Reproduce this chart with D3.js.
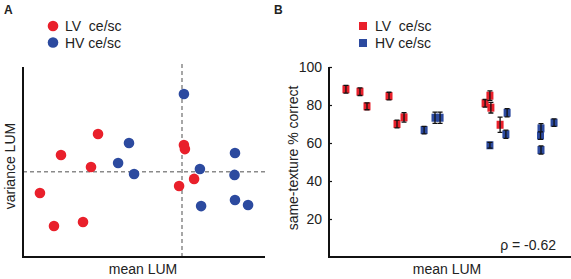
<!DOCTYPE html>
<html>
<head>
<meta charset="utf-8">
<script src="https://cdn.jsdelivr.net/npm/d3@7"></script>
<style>
  body { margin: 0; background: #fff; }
  text { font-family: "Liberation Sans", Arial, sans-serif; fill: #222; white-space: pre; }
</style>
</head>
<body>
<div id="chart"></div>
<script>
// data (mean LUM in arbitrary units 0-100)
const redMean    = [7.0, 12.8, 15.7, 24.8, 28.1, 31.0, 64.5, 66.5, 66.9, 70.7];
const redVar     = [33.7, 16.3, 53.7, 18.4, 47.4, 64.7, 37.4, 58.9, 56.8, 41.1];
const redCorrect = [88.3, 87.0, 79.3, 84.7, 70.0, 73.5, 80.9, 84.9, 78.6, 69.6];
const redErr     = [2, 2, 1.8, 2, 2, 2.5, 2, 2.5, 2.8, 4];

const blueMean    = [39.3, 43.8, 45.9, 66.5, 73.1, 73.6, 87.6, 87.4, 87.6, 93.0];
const blueVar     = [49.5, 60.0, 43.7, 85.8, 46.3, 26.8, 54.7, 43.2, 30.0, 27.4];
const blueCorrect = [66.8, 73.3, 73.3, 58.8, 64.6, 75.9, 67.7, 63.9, 56.3, 70.7];
const blueErr     = [2, 3, 3, 1.5, 2.2, 2.2, 2.5, 2, 2.2, 2];

const meanLine = 65.7, varLine = 44.9;
const yTicks = [20, 40, 60, 80, 100];
const legendLabels = ["LV  ce/sc", "HV ce/sc"];
const rho = "ρ = -0.62";

const RED = "#e9202b", BLUE = "#2c4a9f";

const svg = d3.select("#chart").append("svg")
  .attr("width", 571).attr("height", 279);

const red = redMean.map((m, i) => ({m: m, v: redVar[i], c: redCorrect[i], e: redErr[i]}));
const blue = blueMean.map((m, i) => ({m: m, v: blueVar[i], c: blueCorrect[i], e: blueErr[i]}));

// ---------- panel A ----------
const xA = d3.scaleLinear().domain([0, 100]).range([23, 265]);
const yA = d3.scaleLinear().domain([0, 100]).range([257, 67]);

svg.append("text").attr("x", 4).attr("y", 14)
  .style("font-weight", "700").style("font-size", "12px").text("A");

// dashed mean lines
svg.append("line")
  .attr("x1", xA(meanLine)).attr("x2", xA(meanLine))
  .attr("y1", 64).attr("y2", yA(0))
  .attr("stroke", "#8a8a8a").attr("stroke-width", 1.5).attr("stroke-dasharray", "4,3");
svg.append("line")
  .attr("x1", xA(0)).attr("x2", xA(100))
  .attr("y1", yA(varLine)).attr("y2", yA(varLine))
  .attr("stroke", "#8a8a8a").attr("stroke-width", 1.5).attr("stroke-dasharray", "4,3");

// axes (no ticks)
svg.append("path")
  .attr("d", `M${xA(0)},${yA(100)}V${yA(0)}H${xA(100)}`)
  .attr("fill", "none").attr("stroke", "#111").attr("stroke-width", 2);

svg.selectAll(".dotR").data(red).join("circle")
  .attr("cx", d => xA(d.m)).attr("cy", d => yA(d.v)).attr("r", 5.3).attr("fill", RED);
svg.selectAll(".dotB").data(blue).join("circle")
  .attr("cx", d => xA(d.m)).attr("cy", d => yA(d.v)).attr("r", 5.3).attr("fill", BLUE);

// legend A
[RED, BLUE].forEach((col, i) => {
  svg.append("circle").attr("cx", 53).attr("cy", 26 + i * 16.5).attr("r", 5.3).attr("fill", col);
  svg.append("text").attr("x", 65).attr("y", 31 + i * 16.5)
    .style("font-size", "14px").text(legendLabels[i]);
});

svg.append("text")
  .attr("transform", `translate(15,${(yA(0) + yA(100)) / 2 + 4}) rotate(-90)`)
  .attr("text-anchor", "middle").style("font-size", "14px").text("variance LUM");
svg.append("text").attr("x", 143).attr("y", 274)
  .attr("text-anchor", "middle").style("font-size", "14px").text("mean LUM");

// ---------- panel B ----------
const xB = d3.scaleLinear().domain([0, 100]).range([329, 571]);
const yB = d3.scaleLinear().domain([0, 100]).range([257, 67]);

svg.append("text").attr("x", 274).attr("y", 14)
  .style("font-weight", "700").style("font-size", "12px").text("B");

const gy = svg.append("g")
  .attr("transform", `translate(${xB(0)},0)`)
  .call(d3.axisLeft(yB).tickValues(yTicks).tickSizeInner(-3).tickSizeOuter(0).tickPadding(7));
gy.select(".domain").remove();
gy.selectAll(".tick line").attr("stroke", "#111").attr("stroke-width", 1.2);
gy.selectAll(".tick text").style("font-size", "14px")
  .style("font-family", "'Liberation Sans', Arial, sans-serif").attr("fill", "#222");

svg.append("path")
  .attr("d", `M${xB(0)},${yB(100)}V${yB(0)}H${xB(100)}`)
  .attr("fill", "none").attr("stroke", "#111").attr("stroke-width", 2);

function drawSquares(data, col) {
  const g = svg.append("g");
  const pts = g.selectAll("g").data(data).join("g")
    .attr("transform", d => `translate(${xB(d.m)},${yB(d.c)})`);
  pts.append("rect").attr("x", -3.5).attr("y", -4).attr("width", 7).attr("height", 8)
    .attr("fill", col);
  pts.append("path")
    .attr("d", d => {
      const h = yB(d.c - d.e) - yB(d.c);
      return `M-2.5,${-h}H2.5M0,${-h}V${h}M-2.5,${h}H2.5`;
    })
    .attr("fill", "none").attr("stroke", "#111").attr("stroke-width", 1.3);
}
drawSquares(red, RED);
drawSquares(blue, BLUE);

// legend B
[RED, BLUE].forEach((col, i) => {
  svg.append("rect").attr("x", 359).attr("y", 22 + i * 17).attr("width", 8).attr("height", 8).attr("fill", col);
  svg.append("text").attr("x", 375).attr("y", 31 + i * 17)
    .style("font-size", "14px").text(legendLabels[i]);
});

svg.append("text")
  .attr("transform", `translate(298,${(yB(0) + yB(100)) / 2 - 4}) rotate(-90)`)
  .attr("text-anchor", "middle").style("font-size", "14px").text("same-texture % correct");
svg.append("text").attr("x", 447).attr("y", 274)
  .attr("text-anchor", "middle").style("font-size", "14px").text("mean LUM");
svg.append("text").attr("x", 556).attr("y", 250)
  .attr("text-anchor", "end").style("font-size", "14px").text(rho);
</script>
</body>
</html>
